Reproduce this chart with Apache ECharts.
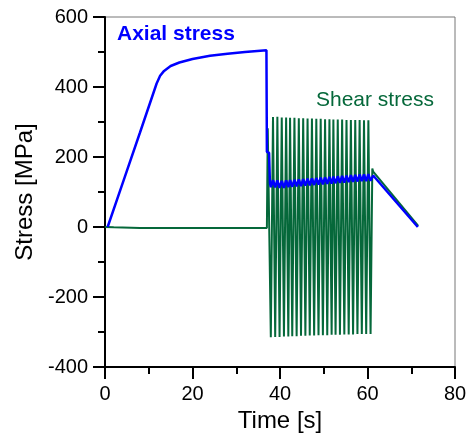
<!DOCTYPE html>
<html>
<head>
<meta charset="utf-8">
<script src="https://cdn.jsdelivr.net/npm/echarts@6/dist/echarts.min.js"></script>
<style>
  html, body { margin: 0; padding: 0; background: #fff; }
  #chart { width: 472px; height: 441px; }
</style>
</head>
<body>
<div id="chart"></div>
<script>
// Axis ranges and ticks
const xTicks = [0, 20, 40, 60, 80];
const yTicks = [-400, -200, 0, 200, 400, 600];

// Axial stress [MPa] vs time [s]: loading, hold, drop, cyclic phase, unloading
const axialTime = [0.6, 4, 8, 11.8, 12.6, 13.5, 15, 17, 20, 24, 28, 32, 36.9, 37.0, 37.5, 37.7,
  37.9, 38.4, 38.9, 39.4, 39.9, 40.4, 40.9, 41.4, 41.9, 42.3, 42.8, 43.3, 43.8, 44.3, 44.8, 45.3,
  45.8, 46.3, 46.8, 47.3, 47.8, 48.3, 48.8, 49.3, 49.8, 50.3, 50.8, 51.3, 51.8, 52.2, 52.7, 53.2,
  53.7, 54.2, 54.7, 55.2, 55.7, 56.2, 56.7, 57.2, 57.7, 58.2, 58.7, 59.2, 59.7, 60.2, 60.7, 61.3, 71.5];
const axialStress = [0, 124, 270, 410, 432, 446, 460, 470, 480, 489, 495, 500, 505, 215, 212, 125,
  114, 134, 113, 133, 112, 132, 112, 133, 114, 134, 115, 135, 116, 136, 117, 137,
  118, 138, 119, 139, 120, 140, 121, 141, 122, 142, 123, 143, 124, 144, 125, 145,
  126, 146, 127, 147, 128, 148, 129, 149, 130, 150, 131, 150, 131, 151, 132, 147, 0];

// Shear stress [MPa] vs time [s]: idle, cyclic torsion, unloading
const shearTime = [0, 2, 8, 20, 37.0, 37.2,
  37.9, 38.4, 38.9, 39.4, 39.9, 40.4, 40.9, 41.4, 41.9, 42.3, 42.8, 43.3, 43.8, 44.3, 44.8, 45.3,
  45.8, 46.3, 46.8, 47.3, 47.8, 48.3, 48.8, 49.3, 49.8, 50.3, 50.8, 51.3, 51.8, 52.2, 52.7, 53.2,
  53.7, 54.2, 54.7, 55.2, 55.7, 56.2, 56.7, 57.2, 57.7, 58.2, 58.7, 59.2, 59.7, 60.2, 60.7, 61.1, 61.3, 71.6];
const shearStress = [0, -1, -3, -3, -3, 282,
  -315, 314, -314, 315, -314, 313, -313, 313, -313, 312, -312, 312, -312, 311, -311, 311,
  -311, 310, -310, 310, -310, 309, -309, 309, -309, 308, -309, 308, -308, 307, -308, 307,
  -308, 307, -307, 306, -307, 306, -307, 306, -306, 306, -306, 305, -306, 305, -306, 167, 158, 3];

const axialData = axialTime.map((t, i) => [t, axialStress[i]]);
const shearData = shearTime.map((t, i) => [t, shearStress[i]]);

const FONT = '"Liberation Sans", Arial, Helvetica, sans-serif';
const chart = echarts.init(document.getElementById('chart'), null, { renderer: 'canvas' });

chart.setOption({
  animation: false,
  backgroundColor: '#ffffff',
  grid: {
    left: 105, right: 17, top: 17, bottom: 74,
    show: true, borderColor: '#777', borderWidth: 1, backgroundColor: 'transparent'
  },
  xAxis: {
    type: 'value', min: xTicks[0], max: xTicks[xTicks.length - 1], interval: 20,
    name: 'Time [s]', nameLocation: 'middle', nameGap: 36,
    nameTextStyle: { fontFamily: FONT, fontSize: 24, color: '#000' },
    axisLine: { show: true, onZero: false, lineStyle: { color: '#000', width: 2 } },
    axisTick: { show: true, inside: false, length: 12, lineStyle: { color: '#000', width: 2 } },
    minorTick: { show: true, splitNumber: 2, length: 7, lineStyle: { color: '#000', width: 2 } },
    axisLabel: { fontFamily: FONT, fontSize: 20, color: '#000', margin: 17 },
    splitLine: { show: false }
  },
  yAxis: {
    type: 'value', min: yTicks[0], max: yTicks[yTicks.length - 1], interval: 200,
    name: 'Stress [MPa]', nameLocation: 'middle', nameGap: 68,
    nameTextStyle: { fontFamily: FONT, fontSize: 24, color: '#000' },
    axisLine: { show: true, onZero: false, lineStyle: { color: '#000', width: 2 } },
    axisTick: { show: true, inside: false, length: 12, lineStyle: { color: '#000', width: 2 } },
    minorTick: { show: true, splitNumber: 2, length: 7, lineStyle: { color: '#000', width: 2 } },
    axisLabel: { fontFamily: FONT, fontSize: 20, color: '#000', margin: 17 },
    splitLine: { show: false }
  },
  series: [
    {
      name: 'Shear stress', type: 'line', data: shearData, showSymbol: false, z: 2,
      lineStyle: { color: '#05683a', width: 2 }
    },
    {
      name: 'Axial stress', type: 'line', data: axialData, showSymbol: false, z: 3,
      lineStyle: { color: '#0000ff', width: 2.5 }
    }
  ],
  graphic: [
    {
      type: 'text', left: 117, top: 24,
      style: { text: 'Axial stress', font: 'bold 21px ' + FONT, fill: '#0000ff' }
    },
    {
      type: 'text', left: 316, top: 90,
      style: { text: 'Shear stress', font: '21px ' + FONT, fill: '#05683a' }
    }
  ]
});
</script>
</body>
</html>
